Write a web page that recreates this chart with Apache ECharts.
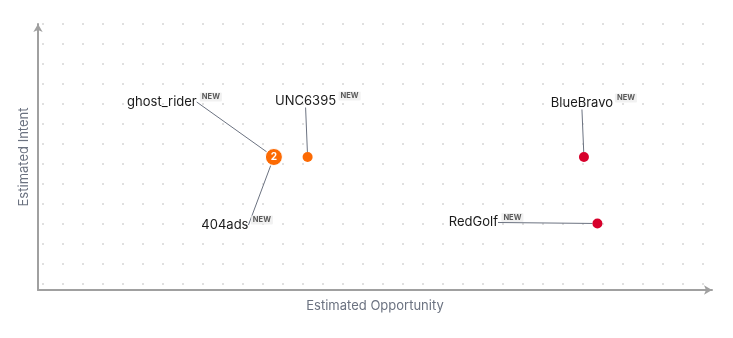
<!DOCTYPE html>
<html>
<head>
<meta charset="utf-8">
<script src="https://cdn.jsdelivr.net/npm/echarts@6/dist/echarts.min.js"></script>
<style>
  html, body { margin: 0; padding: 0; background: #fff; }
  #chart { width: 733px; height: 338px; }
</style>
</head>
<body>
<div id="chart"></div>
<script>
// ---- data ----
var names = ['ghost_rider', '404ads', 'UNC6395', 'BlueBravo', 'RedGolf'];
var opportunity = [35, 35, 40, 81, 83];
var intent = [50, 50, 50, 50, 25];
var severity = ['high', 'high', 'high', 'critical', 'critical'];
var isNew = [true, true, true, true, true];
var clusterX = [35];
var clusterY = [50];
var clusterCount = [2];

// ---- styling / layout (not data) ----
var colors = { high: '#fc6a03', critical: '#d7002b' };
var labelOffset = {
  'ghost_rider': [-112, -55],
  '404ads': [-49, 68],
  'UNC6395': [-2, -56],
  'BlueBravo': [-2, -54],
  'RedGolf': [-124, -1]
};
var badgeOffset = {
  'ghost_rider': [-63, -60],
  '404ads': [-12, 63],
  'UNC6395': [42, -61],
  'BlueBravo': [42, -59],
  'RedGolf': [-85, -6]
};
var font = 'Inter, "Noto Sans", sans-serif';

var chart = echarts.init(document.getElementById('chart'), null, { renderer: 'canvas' });

function inCluster(i) {
  for (var c = 0; c < clusterX.length; c++) {
    if (opportunity[i] === clusterX[c] && intent[i] === clusterY[c]) return true;
  }
  return false;
}

var pointData = names.map(function (n, i) {
  var clustered = inCluster(i);
  return {
    name: n,
    value: [opportunity[i], intent[i]],
    symbolSize: clustered ? 18 : 10,
    itemStyle: { color: clustered ? 'rgba(0,0,0,0)' : colors[severity[i]], opacity: 1 }
  };
});

var badgeData = names.map(function (n, i) {
  return { name: n, value: [opportunity[i], intent[i]], isNew: isNew[i] };
}).filter(function (d) { return d.isNew; });

var clusterData = clusterX.map(function (x, c) {
  return { value: [x, clusterY[c]], count: clusterCount[c] };
});

var option = {
  animation: false,
  grid: [
    { left: 38, right: 21, top: 24, bottom: 48 },
    { left: 43, width: 660, top: 23, height: 262 }
  ],
  xAxis: [
    {
      gridIndex: 0, type: 'value', min: 0, max: 100,
      name: 'Estimated Opportunity', nameLocation: 'middle', nameGap: 10,
      nameTextStyle: { color: '#6b7280', fontSize: 13, fontFamily: font },
      axisLine: { show: true, symbol: ['none', 'arrow'], symbolSize: [7, 8],
        lineStyle: { color: '#a0a0a0', width: 2 } },
      axisTick: { show: false }, axisLabel: { show: false }, splitLine: { show: false }
    },
    {
      gridIndex: 1, type: 'value', min: 0, max: 660, interval: 20,
      axisLine: { show: false }, axisTick: { show: false }, axisLabel: { show: false },
      splitLine: { show: true, lineStyle: { color: '#e0e0e0', width: 2, type: [2, 18] } }
    }
  ],
  yAxis: [
    {
      gridIndex: 0, type: 'value', min: 0, max: 100,
      name: 'Estimated Intent', nameLocation: 'middle', nameGap: 7,
      nameTextStyle: { color: '#6b7280', fontSize: 13, fontFamily: font },
      axisLine: { show: true, symbol: ['none', 'arrow'], symbolSize: [7, 8],
        lineStyle: { color: '#a0a0a0', width: 2 } },
      axisTick: { show: false }, axisLabel: { show: false }, splitLine: { show: false }
    },
    {
      gridIndex: 1, type: 'value', min: 0, max: 262,
      axisLine: { show: false }, axisTick: { show: false }, axisLabel: { show: false },
      splitLine: { show: false }
    }
  ],
  series: [
    {
      type: 'scatter', xAxisIndex: 0, yAxisIndex: 0, z: 3,
      data: pointData,
      label: {
        show: true, position: 'inside', formatter: '{b}',
        color: '#1a1a1a', fontSize: 13, fontFamily: font
      },
      labelLine: { show: true, lineStyle: { color: '#6b7280', width: 1 } },
      labelLayout: function (p) {
        var o = labelOffset[names[p.dataIndex]];
        return { dx: o[0], dy: o[1] };
      },
      emphasis: { disabled: true }
    },
    {
      type: 'scatter', xAxisIndex: 0, yAxisIndex: 0, z: 4,
      data: badgeData, symbolSize: 0, silent: true,
      label: {
        show: true, position: 'inside', formatter: 'NEW',
        color: '#333', fontSize: 7.5, fontWeight: 'bold', fontFamily: font,
        backgroundColor: '#eeeeee', padding: [1, 2, 0, 2], borderRadius: 1
      },
      labelLayout: function (p) {
        var o = badgeOffset[badgeData[p.dataIndex].name];
        return { dx: o[0], dy: o[1] };
      }
    },
    {
      type: 'scatter', xAxisIndex: 0, yAxisIndex: 0, z: 5,
      data: clusterData, symbolSize: 17,
      itemStyle: { color: colors.high, borderColor: '#ffffff', borderWidth: 1, opacity: 1 },
      label: {
        show: true, position: 'inside',
        formatter: function (p) { return String(p.data.count); },
        color: '#fff', fontSize: 10, fontWeight: 'bold', fontFamily: font
      },
      emphasis: { disabled: true }
    }
  ]
};
chart.setOption(option);
</script>
</body>
</html>
